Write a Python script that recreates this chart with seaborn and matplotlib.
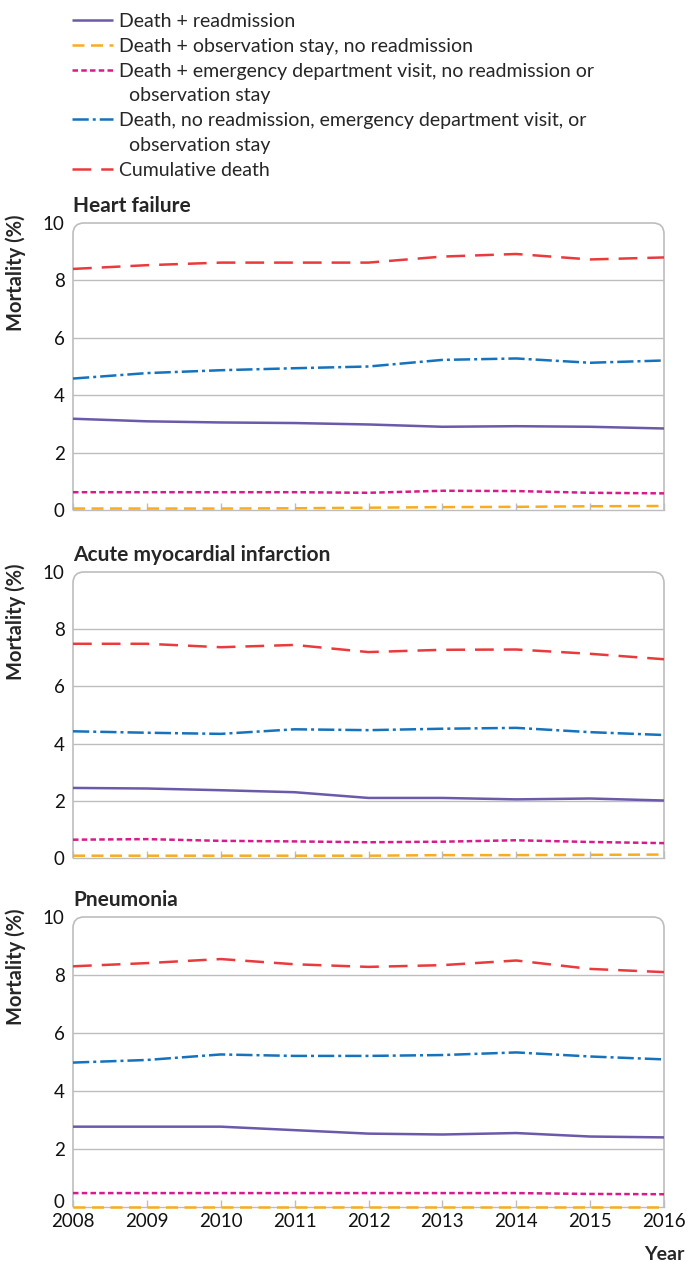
import numpy as np
import pandas as pd
import matplotlib
matplotlib.use("Agg")
import matplotlib.pyplot as plt
import matplotlib.transforms as mtransforms
import seaborn as sns
from matplotlib.path import Path
from matplotlib.patches import PathPatch
from matplotlib.lines import Line2D

sns.set_style("white")
plt.rcParams['font.family'] = ['Lato', 'DejaVu Sans']

years = [2008, 2009, 2010, 2011, 2012, 2013, 2014, 2015, 2016]
series_names = [
    "Death + readmission",
    "Death + observation stay, no readmission",
    "Death + emergency department visit, no readmission or observation stay",
    "Death, no readmission, emergency department visit, or observation stay",
    "Cumulative death",
]
panel_titles = ["Heart failure", "Acute myocardial infarction", "Pneumonia"]

# Heart failure
hf_readmission = [3.18, 3.09, 3.05, 3.03, 2.98, 2.90, 2.92, 2.90, 2.84]
hf_observation = [0.05, 0.05, 0.05, 0.06, 0.08, 0.10, 0.11, 0.13, 0.14]
hf_ed_visit = [0.62, 0.62, 0.62, 0.62, 0.60, 0.67, 0.66, 0.60, 0.58]
hf_no_use = [4.58, 4.77, 4.87, 4.94, 5.00, 5.23, 5.28, 5.13, 5.21]
hf_cumulative = [8.40, 8.53, 8.62, 8.62, 8.62, 8.83, 8.92, 8.73, 8.80]

# Acute myocardial infarction
ami_readmission = [2.45, 2.43, 2.37, 2.30, 2.10, 2.10, 2.05, 2.08, 2.01]
ami_observation = [0.08, 0.08, 0.08, 0.08, 0.08, 0.10, 0.10, 0.11, 0.12]
ami_ed_visit = [0.64, 0.66, 0.60, 0.58, 0.55, 0.57, 0.62, 0.56, 0.52]
ami_no_use = [4.43, 4.38, 4.34, 4.50, 4.47, 4.52, 4.55, 4.40, 4.30]
ami_cumulative = [7.49, 7.49, 7.37, 7.45, 7.20, 7.28, 7.29, 7.14, 6.95]

# Pneumonia
pn_readmission = [2.77, 2.77, 2.77, 2.65, 2.53, 2.50, 2.55, 2.43, 2.40]
pn_observation = [0.01, 0.01, 0.01, 0.01, 0.01, 0.01, 0.01, 0.01, 0.01]
pn_ed_visit = [0.48, 0.48, 0.48, 0.48, 0.48, 0.48, 0.48, 0.45, 0.44]
pn_no_use = [4.98, 5.07, 5.26, 5.21, 5.21, 5.24, 5.33, 5.19, 5.09]
pn_cumulative = [8.30, 8.41, 8.55, 8.37, 8.28, 8.34, 8.50, 8.21, 8.10]

panels = [
    [hf_readmission, hf_observation, hf_ed_visit, hf_no_use, hf_cumulative],
    [ami_readmission, ami_observation, ami_ed_visit, ami_no_use, ami_cumulative],
    [pn_readmission, pn_observation, pn_ed_visit, pn_no_use, pn_cumulative],
]

colors = ["#6B59A9", "#F9AD1E", "#D81B8C", "#1572BC", "#EA3A3C"]
dash_styles = ["", (4.8, 2.6), (2.2, 1.3), (6.5, 1.6, 1.2, 1.6), (7.5, 4.0)]
palette = dict(zip(series_names, colors))
dashes = dict(zip(series_names, dash_styles))

W, H = 688, 1262
fig = plt.figure(figsize=(W / 100, H / 100), dpi=100)

left_px, right_px = 73, 664
panel_px = [(223, 510), (572, 858), (917, 1207)]
grid_col = "#BDBDBD"

axes = []
for i, ((top, bot), vals, title) in enumerate(zip(panel_px, panels, panel_titles)):
    ax = fig.add_axes([left_px / W, 1 - bot / H, (right_px - left_px) / W, (bot - top) / H])
    axes.append(ax)
    df = pd.DataFrame({
        "Year": np.tile(years, len(series_names)),
        "Mortality": np.concatenate(vals),
        "Series": np.repeat(series_names, len(years)),
    })
    sns.lineplot(data=df, x="Year", y="Mortality", hue="Series", style="Series",
                 palette=palette, dashes=dashes, hue_order=series_names,
                 style_order=series_names, linewidth=1.8, legend=False, ax=ax)
    for ln in ax.get_lines():
        ln.set_clip_on(False)
        ln.set_zorder(5)
        ln.set_solid_capstyle("butt")
        ln.set_dash_capstyle("butt")
    ax.set_xlim(years[0], years[-1])
    ax.set_ylim(0, 10)
    ax.set_yticks([0, 2, 4, 6, 8, 10])
    ax.set_xticks(years)
    ax.grid(axis="y", color=grid_col, linewidth=1.0)
    ax.grid(axis="x", visible=False)
    gls = ax.yaxis.get_gridlines()
    gls[0].set_visible(False)
    gls[-1].set_visible(False)
    for s in ["top", "left", "right"]:
        ax.spines[s].set_visible(False)
    ax.spines["bottom"].set_color(grid_col)
    ax.spines["bottom"].set_linewidth(1.0)
    # rounded top frame
    wpx, hpx = right_px - left_px, bot - top
    r = 11
    rx, ry = r / wpx, r / hpx
    verts = [(0, 0), (0, 1 - ry), (0, 1), (rx, 1), (1 - rx, 1), (1, 1), (1, 1 - ry), (1, 0)]
    codes = [Path.MOVETO, Path.LINETO, Path.CURVE3, Path.CURVE3, Path.LINETO,
             Path.CURVE3, Path.CURVE3, Path.LINETO]
    ax.add_patch(PathPatch(Path(verts, codes), transform=ax.transAxes, fill=False,
                           edgecolor=grid_col, linewidth=1.2, clip_on=False, zorder=1))
    ax.tick_params(axis="y", length=0, pad=6, labelsize=13.5, labelcolor="#111111")
    ax.tick_params(axis="x", direction="in", length=5, width=1, color=grid_col,
                   labelsize=13.5, pad=4, labelcolor="#111111", bottom=True)
    if i < 2:
        ax.tick_params(axis="x", labelbottom=False)
    ax.set_xlabel("")
    ax.set_ylabel("Mortality (%)", fontsize=14.5, fontweight="bold", loc="top")
    ax.yaxis.set_label_coords(-47 / wpx, 1.03)
    ax.set_title(title, loc="left", fontsize=15, fontweight="bold", pad=8)

# lift the bottom panel's "0" so it clears the year labels
fig.canvas.draw()
zero_lbl = axes[2].get_yticklabels()[0]
zero_lbl.set_transform(zero_lbl.get_transform() +
                       mtransforms.ScaledTranslation(0, 6 / 100, fig.dpi_scale_trans))

fig.text(685 / W, 1 - 1254 / H, "Year", ha="right", va="center",
         fontsize=14, fontweight="bold")

# Legend (from the first panel's lines)
src = axes[0].get_lines()[:len(series_names)]
blank = Line2D([], [], color="none")
handles = [src[0], src[1], src[2], blank, src[3], blank, src[4]]
labels = [
    "Death + readmission",
    "Death + observation stay, no readmission",
    "Death + emergency department visit, no readmission or",
    "  observation stay",
    "Death, no readmission, emergency department visit, or",
    "  observation stay",
    "Cumulative death",
]
fig.legend(handles, labels, loc="upper left", bbox_to_anchor=(72 / W, 1 - 13 / H),
           frameon=False, fontsize=14, handlelength=2.1, handletextpad=0.3,
           labelspacing=0.4, borderpad=0, borderaxespad=0)

fig.savefig("out.png", dpi=100)
